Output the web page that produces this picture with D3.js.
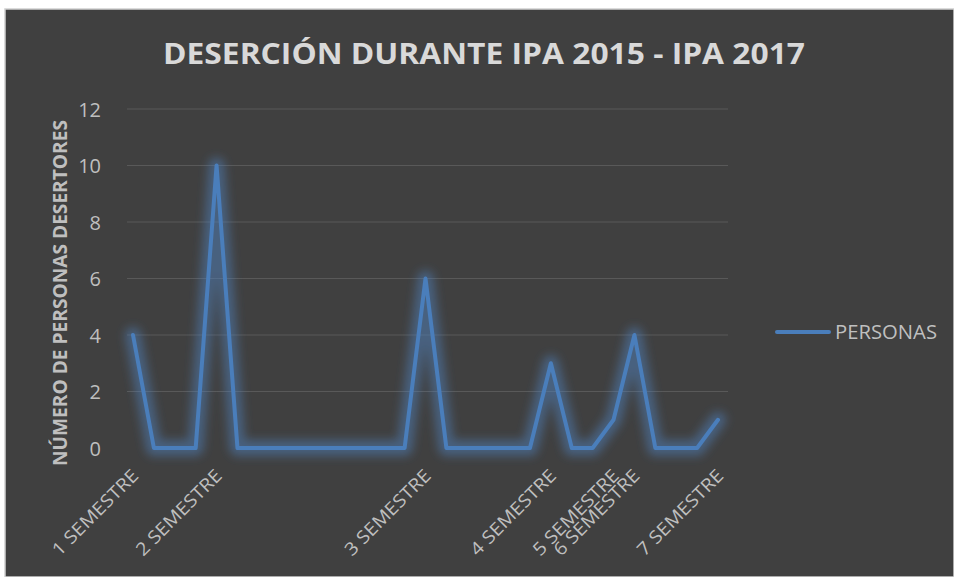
<!DOCTYPE html>
<html><head><meta charset="utf-8">
<script src="https://cdn.jsdelivr.net/npm/d3@7"></script>
<style>
html,body{margin:0;padding:0;background:#fff;}
svg{display:block;}
</style></head>
<body>
<script>
const categories = ["1 SEMESTRE","","","","2 SEMESTRE","","","","","","","","","","3 SEMESTRE","","","","","","4 SEMESTRE","","","5 SEMESTRE","6 SEMESTRE","","","","7 SEMESTRE"];
const personas = [4,0,0,0,10,0,0,0,0,0,0,0,0,0,6,0,0,0,0,0,3,0,0,1,4,0,0,0,1];
const yTicks = [0,2,4,6,8,10,12];
const title = "DESERCIÓN DURANTE IPA 2015 - IPA 2017";
const yTitle = "NÚMERO DE PERSONAS DESERTORES";
const seriesName = "PERSONAS";

const W = 954, H = 577;
const svg = d3.select("body").append("svg").attr("width", W).attr("height", H);
const font = "'Open Sans', 'Liberation Sans', sans-serif";

const defs = svg.append("defs");
const f = defs.append("filter").attr("id","glow").attr("x","-20%").attr("y","-20%").attr("width","140%").attr("height","140%");
f.append("feGaussianBlur").attr("stdDeviation", 5);

// chart background with border
svg.append("rect").attr("x",5).attr("y",9).attr("width",W-5).attr("height",H-9)
  .attr("fill","#404040").attr("stroke","#d0d0d0").attr("stroke-width",1.5);

const idx = categories.map((d,i)=>i);
const x = d3.scalePoint().domain(idx).range([133,718]);
const y = d3.scaleLinear().domain([0,12]).range([448,109]);
const gridX0 = 127, gridX1 = 728;

// gridlines
svg.append("g").selectAll("line").data(yTicks.filter(d=>d>0)).join("line")
  .attr("x1",gridX0).attr("x2",gridX1)
  .attr("y1",d=>y(d)).attr("y2",d=>y(d))
  .attr("stroke","#595959").attr("stroke-width",1.2);

// y axis
const yAxis = d3.axisLeft(y).tickValues(yTicks).tickSize(0).tickPadding(0);
const gy = svg.append("g").attr("transform",`translate(101,0)`).call(yAxis);
gy.select(".domain").remove();
gy.selectAll("text").attr("fill","#bfbfbf").attr("font-family",font).attr("font-size",20).attr("text-anchor","end").attr("dy","0.36em");

// x axis
const xAxis = d3.axisBottom(x).tickSize(0).tickFormat(i=>categories[i]);
const gx = svg.append("g").attr("transform","translate(0,448)").call(xAxis);
gx.select(".domain").remove();
gx.selectAll("text")
  .attr("fill","#bfbfbf").attr("font-family",font).attr("font-size",18)
  .attr("text-anchor","end")
  .attr("transform","translate(6,29) rotate(-45)")
  .attr("dy",0).attr("y",0).attr("x",0)
  .each(function(i){ if (categories[i]) d3.select(this).attr("textLength",113).attr("lengthAdjust","spacingAndGlyphs"); });

// line
const line = d3.line().x((d,i)=>x(i)).y(d=>y(d));
svg.append("path").datum(personas).attr("d",line)
  .attr("fill","none").attr("stroke","#4f81bd").attr("stroke-opacity",0.5)
  .attr("stroke-width",16).attr("stroke-linejoin","round").attr("stroke-linecap","round")
  .attr("filter","url(#glow)");
svg.append("path").datum(personas).attr("d",line)
  .attr("fill","none").attr("stroke","#4a7ebb")
  .attr("stroke-width",4).attr("stroke-linejoin","round").attr("stroke-linecap","round");

// title
svg.append("text").attr("x",484).attr("y",64).attr("text-anchor","middle")
  .attr("font-family",font).attr("font-weight","bold").attr("font-size",29)
  .attr("fill","#d9d9d9").attr("textLength",642).attr("lengthAdjust","spacingAndGlyphs")
  .text(title);

// y title
svg.append("text").attr("transform","translate(67,293) rotate(-90)").attr("text-anchor","middle")
  .attr("font-family",font).attr("font-weight","bold").attr("font-size",19)
  .attr("fill","#bfbfbf").attr("textLength",346).attr("lengthAdjust","spacingAndGlyphs")
  .text(yTitle);

// legend
const lg = svg.append("g");
lg.append("line").attr("x1",777).attr("x2",829).attr("y1",332).attr("y2",332)
  .attr("stroke","#4a7ebb").attr("stroke-width",4).attr("stroke-linecap","round");
lg.append("text").attr("x",835).attr("y",332).attr("dy","0.36em")
  .attr("font-family",font).attr("font-size",20).attr("fill","#bfbfbf")
  .attr("textLength",102).attr("lengthAdjust","spacingAndGlyphs")
  .text(seriesName);
</script>
</body></html>
